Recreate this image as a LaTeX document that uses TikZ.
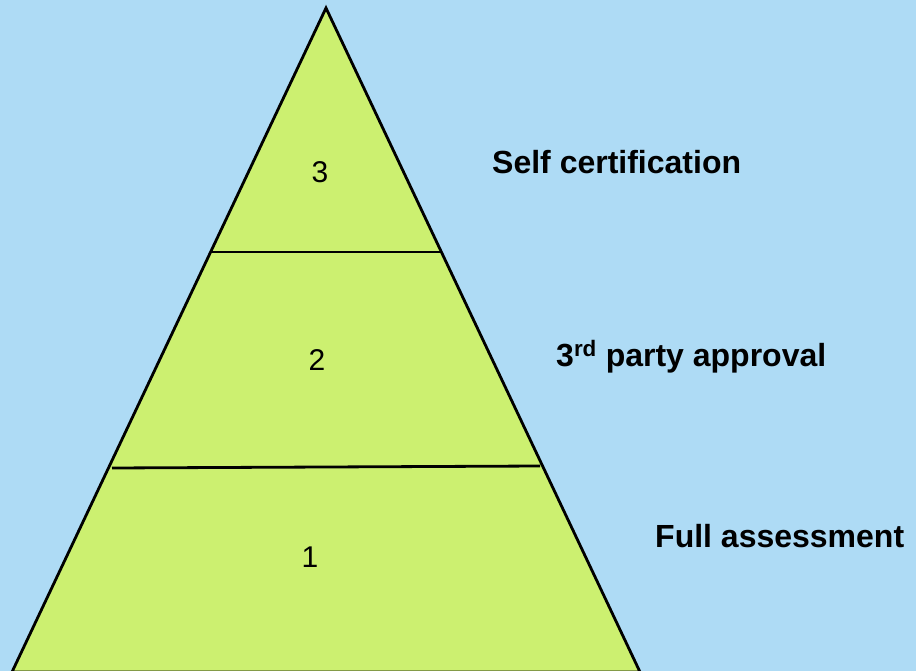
\documentclass[tikz,border=0pt]{standalone}
\usepackage{fontspec}
\setmainfont{Liberation Sans}
\definecolor{sky}{RGB}{174,219,245}
\definecolor{leaf}{RGB}{204,240,112}
\begin{document}
\begin{tikzpicture}[x=1pt,y=-1pt,
  edge/.style={draw=black,line width=2.8pt,line join=miter},
  level/.style={font=\fontsize{30}{30}\selectfont,inner sep=0pt,anchor=base},
  label/.style={font=\fontsize{32}{32}\selectfont\bfseries,inner sep=0pt,anchor=base west}]
  \fill[sky] (0,0) rectangle (916,671);
  \useasboundingbox (0,0) rectangle (916,671);
  % pyramid corners
  \coordinate (apex) at (326,8);
  \coordinate (bl) at (12,672);
  \coordinate (br) at (640,672);
  \filldraw[fill=leaf,edge] (bl) -- (apex) -- (br) -- cycle;
  % tier dividers
  \coordinate (a1) at (212,252);
  \coordinate (a2) at (441,252);
  \coordinate (b1) at (112,468);
  \coordinate (b2) at (540,466);
  \draw[edge] (a1) -- (a2);
  \draw[edge] (b1) -- (b2);
  % tier numbers
  \node[level] (n3) at (320,183) {3};
  \node[level] (n2) at (317,370) {2};
  \node[level] (n1) at (310,567) {1};
  % tier descriptions
  \node[label] (l3) at (492,174) {Self certification};
  \node[label] (l2) at (556,366) {3\textsuperscript{rd} party approval};
  \node[label] (l1) at (655,547) {Full assessment};
\end{tikzpicture}
\end{document}
